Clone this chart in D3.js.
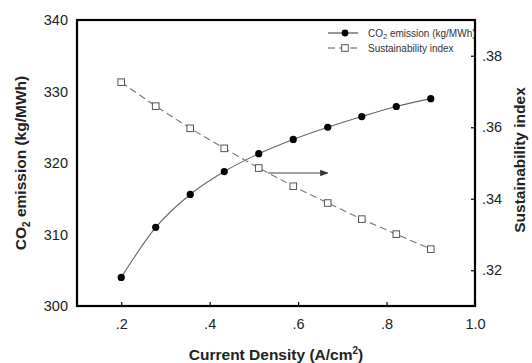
<!DOCTYPE html>
<html>
<head>
<meta charset="utf-8">
<script src="https://cdn.jsdelivr.net/npm/d3@7"></script>
<style>
  body { margin: 0; background: #fff; }
  svg { display: block; font-family: Arial, "Liberation Sans", sans-serif; }
</style>
</head>
<body>
<svg id="chart" width="532" height="363"></svg>
<script>
// data
var density = [0.2, 0.278, 0.356, 0.433, 0.511, 0.589, 0.667, 0.744, 0.822, 0.9];
var co2 = [304.0, 311.0, 315.6, 318.8, 321.3, 323.3, 325.0, 326.5, 327.9, 329.0];
var sustain = [0.3726, 0.3659, 0.3597, 0.3541, 0.3486, 0.3435, 0.3388, 0.3343, 0.3301, 0.3259];
var xTicks = [0.2, 0.4, 0.6, 0.8, 1.0];
var leftTicks = [300, 310, 320, 330, 340];
var rightTicks = [0.32, 0.34, 0.36, 0.38];
// arrow pointing to the right axis, in data units (x, right-axis y)
var arrowFrom = [0.532, 0.3472];
var arrowTo = [0.667, 0.3472];

var svg = d3.select('#chart');
var margin = {left: 77, top: 20, right: 57, bottom: 57};
var W = 532, H = 363;
var x = d3.scaleLinear().domain([0.1, 1.0]).range([margin.left, W - margin.right]);
var yL = d3.scaleLinear().domain([300, 340]).range([H - margin.bottom, margin.top]);
var yR = d3.scaleLinear().domain([0.31, 0.39]).range([H - margin.bottom, margin.top]);

let fmt = d => d3.format('.2f')(d).replace(/^0/, '');
let fmtX = d => d === 1 ? '1.0' : d3.format('.1f')(d).replace(/^0/, '');
let tickFont = 14.5;

// frame
svg.append('rect')
  .attr('x', margin.left).attr('y', margin.top)
  .attr('width', W - margin.left - margin.right)
  .attr('height', H - margin.top - margin.bottom)
  .attr('fill', 'none').attr('stroke', '#000').attr('stroke-width', 2.2);

// bottom axis
let gx = svg.append('g').attr('transform', 'translate(0,' + (H - margin.bottom) + ')')
  .call(d3.axisBottom(x).tickValues(xTicks).tickFormat(fmtX).tickSizeInner(-4).tickSizeOuter(0).tickPadding(13));
gx.select('.domain').remove();
gx.selectAll('line').attr('stroke', '#000').attr('stroke-width', 1.2);
gx.selectAll('text').attr('font-size', tickFont).attr('fill', '#222').attr('font-family', 'Arial, "Liberation Sans", sans-serif');

// left axis (labels only)
let gl = svg.append('g').attr('transform', 'translate(' + margin.left + ',0)')
  .call(d3.axisLeft(yL).tickValues(leftTicks).tickFormat(d3.format('d')).tickSize(0).tickPadding(9));
gl.select('.domain').remove();
gl.selectAll('text').attr('font-size', tickFont).attr('fill', '#222').attr('font-family', 'Arial, "Liberation Sans", sans-serif');

// right axis
let gr = svg.append('g').attr('transform', 'translate(' + (W - margin.right) + ',0)')
  .call(d3.axisRight(yR).tickValues(rightTicks).tickFormat(fmt).tickSizeInner(-4).tickSizeOuter(0).tickPadding(7));
gr.select('.domain').remove();
gr.selectAll('line').attr('stroke', '#000').attr('stroke-width', 1.2);
gr.selectAll('text').attr('font-size', tickFont).attr('fill', '#222').attr('font-family', 'Arial, "Liberation Sans", sans-serif');

// axis titles
let titleFont = 15.5;
let xt = svg.append('text').attr('x', 276).attr('y', 360)
  .attr('text-anchor', 'middle').attr('font-size', titleFont).attr('font-weight', 'bold').attr('fill', '#222');
xt.append('tspan').text('Current Density (A/cm');
xt.append('tspan').attr('font-size', 10).attr('dy', -6).text('2');
xt.append('tspan').attr('dy', 6).text(')');

let ylt = svg.append('text').attr('transform', 'translate(26,163) rotate(-90)')
  .attr('text-anchor', 'middle').attr('font-size', titleFont).attr('font-weight', 'bold').attr('fill', '#222');
ylt.append('tspan').text('CO');
ylt.append('tspan').attr('font-size', 10).attr('dy', 4).text('2');
ylt.append('tspan').attr('dy', -4).text(' emission (kg/MWh)');

svg.append('text').attr('transform', 'translate(525,160) rotate(-90)')
  .attr('text-anchor', 'middle').attr('font-size', titleFont).attr('font-weight', 'bold').attr('fill', '#222')
  .text('Sustainability index');

// series
let co2Pts = density.map((d, i) => [x(d), yL(co2[i])]);
let susPts = density.map((d, i) => [x(d), yR(sustain[i])]);

svg.append('path').attr('d', d3.line().curve(d3.curveMonotoneX)(co2Pts))
  .attr('fill', 'none').attr('stroke', '#666').attr('stroke-width', 1.1);
svg.append('path').attr('d', d3.line()(susPts))
  .attr('fill', 'none').attr('stroke', '#777').attr('stroke-width', 1.1).attr('stroke-dasharray', '7,4');

svg.selectAll('.co2pt').data(co2Pts).enter().append('circle')
  .attr('cx', d => d[0]).attr('cy', d => d[1]).attr('r', 3.6).attr('fill', '#000');
svg.selectAll('.suspt').data(susPts).enter().append('rect')
  .attr('x', d => d[0] - 3.3).attr('y', d => d[1] - 3.3).attr('width', 6.6).attr('height', 6.6)
  .attr('fill', '#fff').attr('stroke', '#555').attr('stroke-width', 1);

// arrow
svg.append('defs').append('marker').attr('id', 'ah')
  .attr('viewBox', '0 0 10 10').attr('refX', 9).attr('refY', 5)
  .attr('markerWidth', 7).attr('markerHeight', 7).attr('orient', 'auto')
  .append('path').attr('d', 'M0,1 L10,5 L0,9 Z').attr('fill', '#333');
svg.append('line')
  .attr('x1', x(arrowFrom[0])).attr('y1', yR(arrowFrom[1]))
  .attr('x2', x(arrowTo[0])).attr('y2', yR(arrowTo[1]))
  .attr('stroke', '#444').attr('stroke-width', 1.2).attr('marker-end', 'url(#ah)');

// legend
let lg = svg.append('g').attr('transform', 'translate(328,33)');
lg.append('line').attr('x1', 0).attr('x2', 30).attr('y1', 0).attr('y2', 0).attr('stroke', '#333');
lg.append('circle').attr('cx', 17).attr('cy', 0).attr('r', 3.4).attr('fill', '#000');
let l1 = lg.append('text').attr('x', 40).attr('y', 3.5).attr('font-size', 10).attr('fill', '#333');
l1.append('tspan').text('CO');
l1.append('tspan').attr('font-size', 7.5).attr('dy', 2).text('2');
l1.append('tspan').attr('dy', -2).text(' emission (kg/MWh)');

lg.append('line').attr('x1', 0).attr('x2', 30).attr('y1', 15).attr('y2', 15)
  .attr('stroke', '#555').attr('stroke-dasharray', '7,4');
lg.append('rect').attr('x', 13.7).attr('y', 11.7).attr('width', 6.6).attr('height', 6.6)
  .attr('fill', '#fff').attr('stroke', '#555');
lg.append('text').attr('x', 40).attr('y', 18.5).attr('font-size', 10).attr('fill', '#333')
  .text('Sustainability index');
</script>
</body>
</html>
